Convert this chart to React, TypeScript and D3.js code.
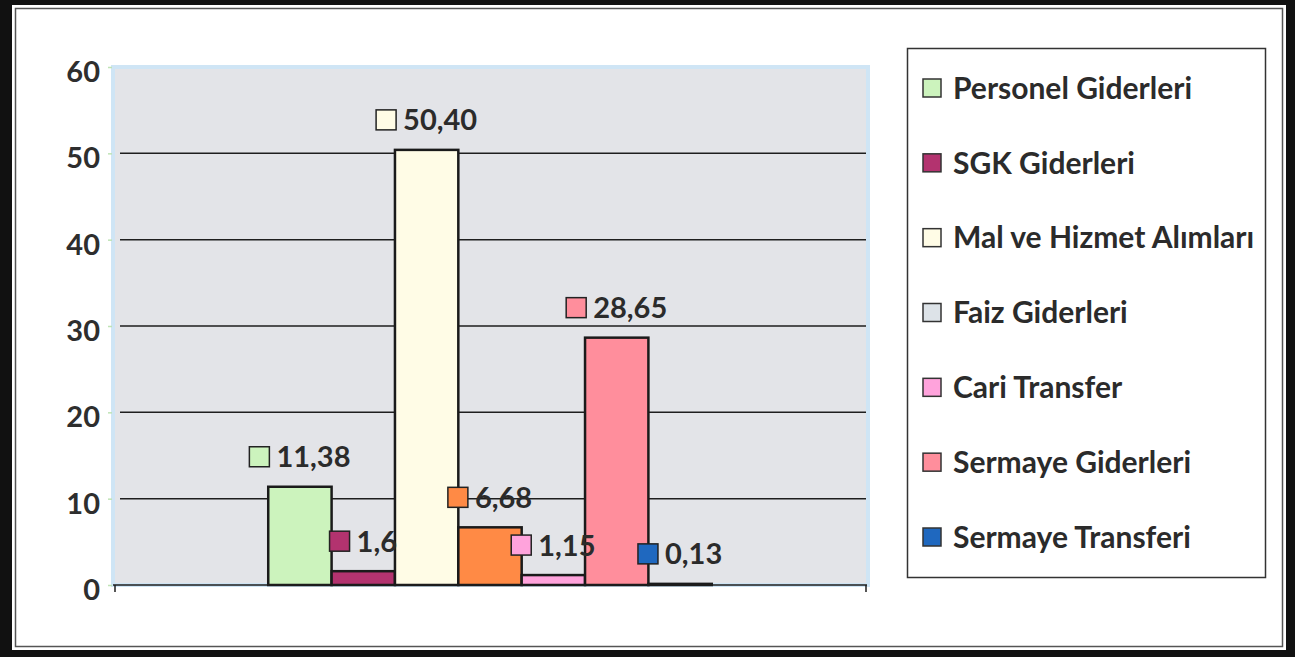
import { useEffect, useRef } from "react";
import * as d3 from "d3";

const seriesNames = [
  "Personel Giderleri",
  "SGK Giderleri",
  "Mal ve Hizmet Alımları",
  "Faiz Giderleri",
  "Cari Transfer",
  "Sermaye Giderleri",
  "Sermaye Transferi",
];
const seriesValues = [11.38, 1.6, 50.4, 6.68, 1.15, 28.65, 0.13];
const valueLabels = ["11,38", "1,6", "50,40", "6,68", "1,15", "28,65", "0,13"];
const barColors = ["#ccf3bd", "#b3336f", "#fffce6", "#ff8a45", "#ffa3dc", "#ff8e9c", "#1f68bf"];
// legend key for Faiz is drawn grey in the original, the bar is orange
const legendColors = ["#ccf3bd", "#b3336f", "#fffce6", "#dde3e8", "#ffa3dc", "#ff8e9c", "#1f68bf"];
const yTicks = [0, 10, 20, 30, 40, 50, 60];

const W = 1295;
const H = 657;
const FONT = "Lato, 'Open Sans', sans-serif";

export default function App() {
  const svgRef = useRef<SVGSVGElement>(null);

  useEffect(() => {
    if (!svgRef.current) return;
    const svg = d3.select(svgRef.current);
    svg.selectAll("*").remove();

    // frame: thick black edge, white card, thin grey inner line
    svg.append("rect").attr("width", W).attr("height", H).attr("fill", "#111");
    svg.append("rect").attr("x", 12).attr("y", 5).attr("width", 1274).attr("height", 645).attr("fill", "#fff");
    svg
      .append("rect")
      .attr("x", 15.5)
      .attr("y", 8.5)
      .attr("width", 1267)
      .attr("height", 638)
      .attr("fill", "none")
      .attr("stroke", "#555")
      .attr("stroke-width", 1.5);

    const plot = { left: 113, right: 868, top: 67, bottom: 585 };
    const y = d3.scaleLinear().domain([0, 60]).range([plot.bottom, plot.top]);
    const x = d3
      .scaleBand<string>()
      .domain(seriesNames)
      .range([plot.left, plot.right - 1])
      .paddingInner(0)
      .paddingOuter(2.45);

    // plot background
    svg
      .append("rect")
      .attr("x", plot.left)
      .attr("y", plot.top)
      .attr("width", plot.right - plot.left)
      .attr("height", plot.bottom - plot.top)
      .attr("fill", "#e3e4e8")
      .attr("stroke", "#cfe5f5")
      .attr("stroke-width", 4);

    // y axis labels + faint green ticks
    const yAxis = svg
      .append("g")
      .attr("transform", `translate(${plot.left - 1},0)`)
      .call(d3.axisLeft(y).tickValues(yTicks).tickSize(4).tickPadding(8).tickFormat((d) => String(d)));
    yAxis.select(".domain").remove();
    yAxis.selectAll("line").attr("stroke", "#bfe3b5").attr("stroke-width", 1.5);
    yAxis
      .selectAll("text")
      .attr("font-family", FONT)
      .attr("font-weight", 700)
      .attr("font-size", 29)
      .attr("fill", "#2e2e2e")
      .attr("dy", "0.5em");

    // gridlines
    svg
      .append("g")
      .selectAll("line")
      .data(yTicks.filter((t) => t > 0 && t < 60))
      .join("line")
      .attr("x1", plot.left + 7)
      .attr("x2", plot.right - 2)
      .attr("y1", (d) => y(d))
      .attr("y2", (d) => y(d))
      .attr("stroke", "#1e1e1e")
      .attr("stroke-width", 1.5);

    // bars
    svg
      .append("g")
      .selectAll("rect")
      .data(seriesNames)
      .join("rect")
      .attr("x", (d) => x(d)!)
      .attr("y", (_d, i) => y(seriesValues[i]))
      .attr("width", x.bandwidth())
      .attr("height", (_d, i) => y(0) - y(seriesValues[i]))
      .attr("fill", (_d, i) => barColors[i])
      .attr("stroke", "#1a1a1a")
      .attr("stroke-width", 2.5);

    // baseline with end ticks
    svg
      .append("line")
      .attr("x1", plot.left)
      .attr("x2", plot.right - 1)
      .attr("y1", y(0))
      .attr("y2", y(0))
      .attr("stroke", "#1e1e1e")
      .attr("stroke-width", 1.5);
    svg
      .append("g")
      .selectAll("line")
      .data([plot.left + 2, plot.right - 2])
      .join("line")
      .attr("x1", (d) => d)
      .attr("x2", (d) => d)
      .attr("y1", y(0))
      .attr("y2", y(0) + 7)
      .attr("stroke", "#1e1e1e")
      .attr("stroke-width", 1.5);

    // value labels with legend key
    const key = 20;
    const labels = svg
      .append("g")
      .selectAll("g")
      .data(seriesNames)
      .join("g")
      .attr("transform", (d, i) => `translate(${x(d)! + x.bandwidth() / 2},${y(seriesValues[i]) - 30})`);
    labels.each(function (_d, i) {
      const g = d3.select(this);
      const txt = g
        .append("text")
        .attr("font-family", FONT)
        .attr("font-weight", 700)
        .attr("font-size", 29)
        .attr("fill", "#2b2b2b")
        .attr("dy", "0.36em")
        .text(valueLabels[i]);
      const tw = (txt.node() as SVGTextElement).getComputedTextLength();
      const total = key + 7 + tw;
      const x0 = -total / 2;
      g.insert("rect", "text")
        .attr("x", x0)
        .attr("y", -key / 2)
        .attr("width", key)
        .attr("height", key)
        .attr("fill", barColors[i])
        .attr("stroke", "#222")
        .attr("stroke-width", 1.5);
      txt.attr("x", x0 + key + 7);
    });

    // legend
    const lg = svg.append("g");
    lg.append("rect")
      .attr("x", 907.5)
      .attr("y", 48.5)
      .attr("width", 358)
      .attr("height", 529)
      .attr("fill", "#fff")
      .attr("stroke", "#333")
      .attr("stroke-width", 1.5);
    const ly = d3.scalePoint<string>().domain(seriesNames).range([88, 537]);
    const rows = lg
      .selectAll("g.row")
      .data(seriesNames)
      .join("g")
      .attr("class", "row")
      .attr("transform", (d) => `translate(923,${ly(d)})`);
    rows
      .append("rect")
      .attr("x", 0)
      .attr("y", -9)
      .attr("width", 18)
      .attr("height", 18)
      .attr("fill", (_d, i) => legendColors[i])
      .attr("stroke", "#333")
      .attr("stroke-width", 1.5);
    rows
      .append("text")
      .attr("x", 30)
      .attr("dy", "0.36em")
      .attr("font-family", FONT)
      .attr("font-weight", 700)
      .attr("font-size", 30)
      .attr("fill", "#2b2b2b")
      .text((d) => d);
  }, []);

  return (
    <div style={{ position: "absolute", left: 0, top: 0 }}>
      <svg ref={svgRef} width={W} height={H} style={{ display: "block" }} />
    </div>
  );
}
